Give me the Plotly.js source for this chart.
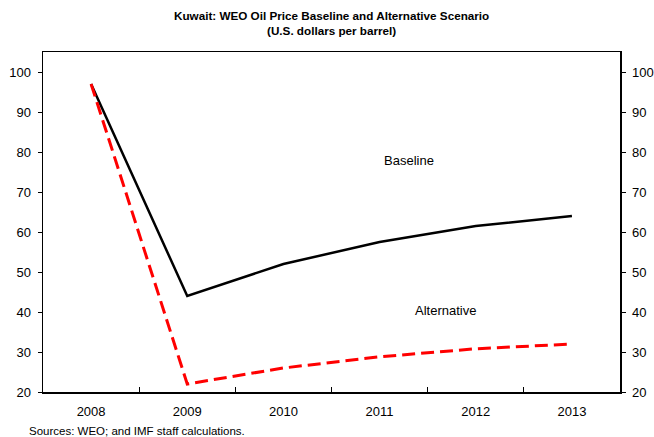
<!DOCTYPE html>
<html><head><meta charset="utf-8">
<script src="https://cdn.plot.ly/plotly-3.0.1.min.js"></script>
<style>body{margin:0;padding:0;background:#fff}#chart{width:654px;height:437px}</style>
</head><body><div id="chart"></div>
<script>
const years = ["2008","2009","2010","2011","2012","2013"];
const baseline = [97, 44, 52, 57.5, 61.5, 64];
const alternative = [97, 22, 26, 28.8, 30.8, 32];
const yTicks = [20,30,40,50,60,70,80,90,100];
const titleLines = ["Kuwait: WEO Oil Price Baseline and Alternative Scenario", "(U.S. dollars per barrel)"];

const font = {family:"Liberation Sans, Arial, sans-serif", color:"#000"};
const traces = [
  {x: years, y: baseline, type:"scatter", mode:"lines", line:{color:"#000", width:2.5}, hoverinfo:"skip"},
  {x: years, y: alternative, type:"scatter", mode:"lines", line:{color:"#ff0000", width:3, dash:"13px,6px"}, hoverinfo:"skip"},
  {x: years, y: baseline, yaxis:"y2", type:"scatter", mode:"lines", line:{color:"rgba(0,0,0,0)", width:0}, hoverinfo:"skip"}
];
const yax = {range:[20,105], tickvals:yTicks, showgrid:false, zeroline:false, showline:true, linecolor:"#000", linewidth:1.5,
  ticks:"outside", ticklen:4, tickcolor:"#000", ticklabelstandoff:4, tickfont:Object.assign({size:13}, font)};
const layout = {
  width:654, height:437, margin:{l:43, r:34, t:52, b:45},
  paper_bgcolor:"#fff", plot_bgcolor:"#fff", showlegend:false,
  font: font,
  xaxis:{type:"category", range:[-0.5,5.5], showgrid:false, zeroline:false, showline:true, mirror:true, linecolor:"#000", linewidth:1.5,
    ticks:"inside", tickson:"boundaries", ticklen:5, tickcolor:"#000", ticklabelstandoff:7, tickfont:Object.assign({size:13}, font)},
  yaxis: yax,
  yaxis2: Object.assign({}, yax, {overlaying:"y", side:"right"}),
  annotations:[
    {text:"<b>"+titleLines[0]+"</b>", x:0.5, y:1.1059, xref:"paper", yref:"paper", xanchor:"center", yanchor:"middle", showarrow:false, font:Object.assign({size:11.7}, font)},
    {text:"<b>"+titleLines[1]+"</b>", x:0.5, y:1.0618, xref:"paper", yref:"paper", xanchor:"center", yanchor:"middle", showarrow:false, font:Object.assign({size:11.7}, font)},
    {text:"Baseline", x:3, y:78, xref:"x", yref:"y", xshift:29, showarrow:false, font:Object.assign({size:13}, font)},
    {text:"Alternative", x:4, y:40.3, xref:"x", yref:"y", xshift:-30, showarrow:false, font:Object.assign({size:13}, font)},
    {text:"Sources: WEO; and IMF staff calculations.", x:-0.027, xanchor:"left", y:-0.1147, yanchor:"middle",
      xref:"paper", yref:"paper", showarrow:false, font:Object.assign({size:11.5}, font)}
  ]
};
Plotly.newPlot("chart", traces, layout, {displayModeBar:false, staticPlot:true});
</script></body></html>
